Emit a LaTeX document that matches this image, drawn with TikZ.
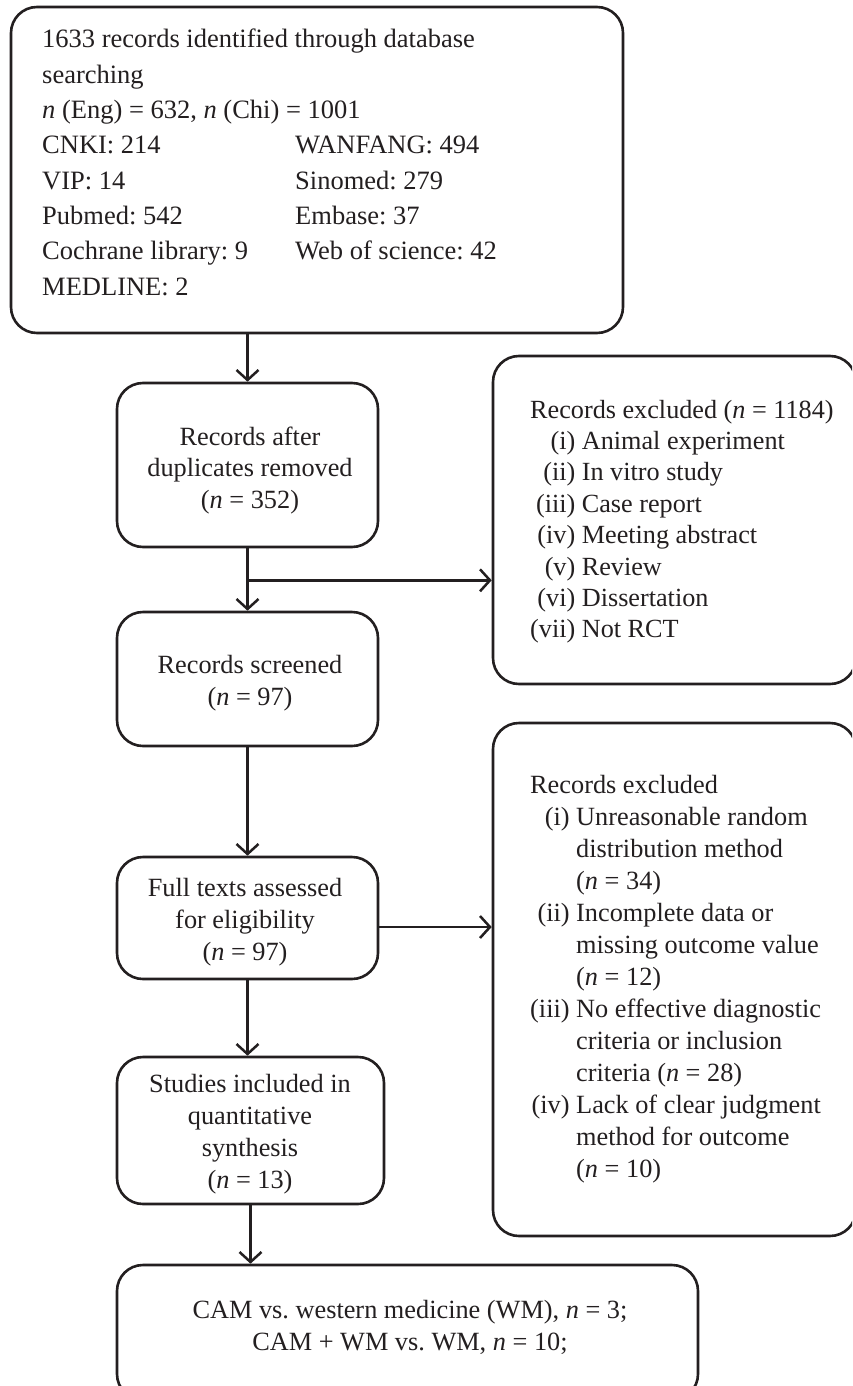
\documentclass[tikz,border=0pt]{standalone}
\usepackage{fontspec}
\setmainfont{Liberation Serif}
\usetikzlibrary{arrows.meta}
\definecolor{ink}{HTML}{231F20}
\frenchspacing
\tikzset{
  box/.style={draw=ink, line width=2.6pt, rounded corners=26pt, inner sep=0pt},
  txt/.style={inner sep=0pt, text=ink},
  arr/.style={draw=ink, line width=2.5pt, -{Straight Barb[length=10pt,width=22pt]}},
  ln/.style={draw=ink, line width=2.5pt}
}
\begin{document}
\begin{tikzpicture}[x=1pt,y=-1pt]
\useasboundingbox (0,0) rectangle (852,1386);
\fill[white] (0,0) rectangle (852,1386);
\clip (0,0) rectangle (852,1386);

% boxes
\node[box, minimum width=612pt, minimum height=326pt] (top) at (317,170) {};
\node[box, minimum width=261pt, minimum height=164pt] (b2) at (247.5,465) {};
\node[box, minimum width=261pt, minimum height=134pt] (b3) at (247.5,679) {};
\node[box, minimum width=261pt, minimum height=122pt] (b4) at (247.5,918) {};
\node[box, minimum width=267pt, minimum height=147pt] (b5) at (250.5,1130.5) {};
\node[box, minimum width=581pt, minimum height=135pt] (b6) at (407.5,1332.5) {};
\node[box, minimum width=363pt, minimum height=328pt] (r1) at (674.5,520) {};
\node[box, minimum width=363pt, minimum height=513pt] (r2) at (674.5,979.5) {};

% texts
\node[txt, anchor=base west, font=\fontsize{26.5}{35.3}\selectfont] (ttop) at (42,48) {%
\begin{tabular}[t]{@{}p{253pt}@{}l@{}}
\multicolumn{2}{@{}l@{}}{1633 records identified through database}\\
\multicolumn{2}{@{}l@{}}{searching}\\
\multicolumn{2}{@{}l@{}}{\textit{n} (Eng) = 632, \textit{n} (Chi) = 1001}\\
CNKI: 214 & WANFANG: 494\\
VIP: 14 & Sinomed: 279\\
Pubmed: 542 & Embase: 37\\
Cochrane library: 9 & Web of science: 42\\
MEDLINE: 2 &
\end{tabular}};

\node[txt, anchor=base, font=\fontsize{26.3}{31.7}\selectfont] (tb2) at (250,445) {%
\begin{tabular}[t]{@{}c@{}}
Records after\\ duplicates removed\\ (\textit{n} = 352)
\end{tabular}};

\node[txt, anchor=base, font=\fontsize{26.3}{32}\selectfont] (tb3) at (250,673) {%
\begin{tabular}[t]{@{}c@{}}
Records screened\\ (\textit{n} = 97)
\end{tabular}};

\node[txt, anchor=base, font=\fontsize{26.3}{32}\selectfont] (tb4) at (245,896) {%
\begin{tabular}[t]{@{}c@{}}
Full texts assessed\\ for eligibility\\ (\textit{n} = 97)
\end{tabular}};

\node[txt, anchor=base, font=\fontsize{26.3}{32}\selectfont] (tb5) at (250,1092) {%
\begin{tabular}[t]{@{}c@{}}
Studies included in\\ quantitative\\ synthesis\\ (\textit{n} = 13)
\end{tabular}};

\node[txt, anchor=base, font=\fontsize{26.3}{32}\selectfont] (tb6) at (410,1318) {%
\begin{tabular}[t]{@{}c@{}}
CAM vs. western medicine (WM), \textit{n} = 3;\\ CAM + WM vs. WM, \textit{n} = 10;
\end{tabular}};

\node[txt, anchor=base west, font=\fontsize{26.2}{31.4}\selectfont] (tr1) at (530,418) {%
\begin{tabular}[t]{@{}r@{\ }l@{}}
\multicolumn{2}{@{}l@{}}{Records excluded (\textit{n} = 1184)}\\
(i) & Animal experiment\\
(ii) & In vitro study\\
(iii) & Case report\\
(iv) & Meeting abstract\\
(v) & Review\\
(vi) & Dissertation\\
(vii) & Not RCT
\end{tabular}};

\node[txt, anchor=base west, font=\fontsize{26.3}{32}\selectfont] (tr2) at (530,793) {%
\begin{tabular}[t]{@{}r@{\ }l@{}}
\multicolumn{2}{@{}l@{}}{Records excluded}\\
(i) & Unreasonable random\\
 & distribution method\\
 & (\textit{n} = 34)\\
(ii) & Incomplete data or\\
 & missing outcome value\\
 & (\textit{n} = 12)\\
(iii) & No effective diagnostic\\
 & criteria or inclusion\\
 & criteria (\textit{n} = 28)\\
(iv) & Lack of clear judgment\\
 & method for outcome\\
 & (\textit{n} = 10)
\end{tabular}};

% connectors
\draw[arr] (b2.north |- top.south) -- (b2.north);
\draw[arr] (b2.south) -- (b3.north);
\coordinate (br) at ([yshift=-32pt]b2.south);
\draw[arr] (br) -- (br -| r1.west);
\draw[arr] (b3.south) -- (b4.north);
\draw[arr] ([yshift=-9pt]b4.east) -- ([yshift=-9pt]b4.east -| r2.west);
\draw[arr] (b4.south) -- (b4.south |- b5.north);
\draw[arr] (b5.south) -- (b5.south |- b6.north);
\end{tikzpicture}
\end{document}
